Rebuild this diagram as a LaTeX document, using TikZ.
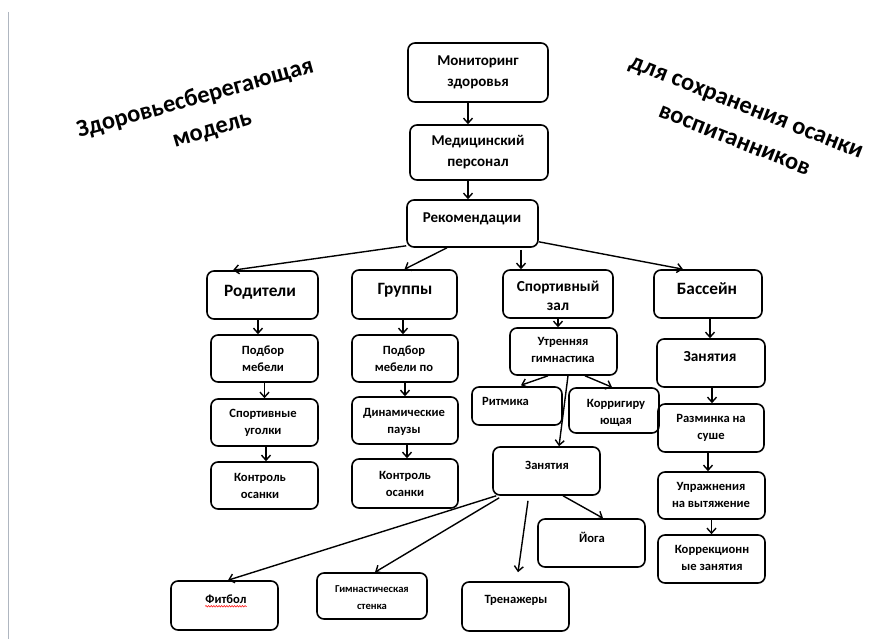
\documentclass[tikz,border=0pt]{standalone}
\usepackage{fontspec}
\setmainfont{Carlito}
\usetikzlibrary{arrows.meta,decorations.pathmorphing}
\tikzset{
  box/.style={draw, rounded corners=7pt, line width=1.6pt, inner sep=0pt},
  lbl/.style={align=center, inner sep=0pt},
  fbig/.style={font=\bfseries\fontsize{17.3}{21}\selectfont},
  fmid/.style={font=\bfseries\fontsize{15.3}{19}\selectfont},
  ftop/.style={font=\bfseries\fontsize{15}{21}\selectfont},
  fsm/.style={font=\bfseries\fontsize{12.6}{17}\selectfont},
  ftiny/.style={font=\bfseries\fontsize{10.6}{16.5}\selectfont},
  ftitle/.style={font=\bfseries\fontsize{24.4}{34}\selectfont},
  arr/.style={line width=1.4pt, -{Straight Barb[length=5pt,width=9pt]}},
}
\begin{document}
\begin{tikzpicture}[x=1pt,y=-1pt]
\useasboundingbox (0,0) rectangle (896,639);
\fill[white] (0,0) rectangle (896,639);
\coordinate (ltop) at (8,12);
\coordinate (lbot) at (8,639);
\draw[color={rgb,255:red,175;green,182;blue,192}, line width=1pt] (ltop) -- (lbot);

% titles
\node[lbl, ftitle, anchor=base, rotate=15.5] (t1) at (197,105) {Здоровьесберегающая};
\node[lbl, ftitle, anchor=base, rotate=16.5] (t2) at (214,136) {модель};
\node[lbl, ftitle, anchor=base, rotate=-21.5] (t3) at (744,113) {для сохранения осанки};
\node[lbl, ftitle, anchor=base, rotate=-21.5] (t4) at (732,146) {воспитанников};

% boxes
\node[box, minimum width=140pt, minimum height=59pt] (mon) at (478,72.5) {};
\node[box, minimum width=138pt, minimum height=55pt] (med) at (479,152.5) {};
\node[box, minimum width=131pt, minimum height=47pt] (rek) at (472.5,223.5) {};
\node[box, minimum width=111pt, minimum height=48pt] (rod) at (262.5,295) {};
\node[box, minimum width=105pt, minimum height=49pt] (grp) at (404.5,294.5) {};
\node[box, minimum width=110pt, minimum height=48pt] (spz) at (558,294) {};
\node[box, minimum width=108pt, minimum height=48pt] (bas) at (708,294) {};
\node[box, minimum width=107pt, minimum height=47pt] (pm1) at (264.5,358.5) {};
\node[box, minimum width=107pt, minimum height=47pt] (su) at (264.5,422.5) {};
\node[box, minimum width=107pt, minimum height=47pt] (ko1) at (264.5,485.5) {};
\node[box, minimum width=106pt, minimum height=47pt] (pm2) at (405,358.5) {};
\node[box, minimum width=106pt, minimum height=47pt] (dp) at (405,420.5) {};
\node[box, minimum width=106pt, minimum height=49pt] (ko2) at (405,483.5) {};
\node[box, minimum width=107pt, minimum height=47pt] (ug) at (563.5,351.5) {};
\node[box, minimum width=108pt, minimum height=48pt] (zb) at (711,363) {};
\node[box, minimum width=90pt, minimum height=38pt] (rit) at (517,406) {};
\node[box, minimum width=90pt, minimum height=45pt] (kor) at (614,410.5) {};
\node[box, minimum width=106pt, minimum height=48pt] (raz) at (711,428) {};
\node[box, minimum width=107pt, minimum height=48pt] (zan) at (546.5,471) {};
\node[box, minimum width=107pt, minimum height=47pt] (upr) at (711.5,495.5) {};
\node[box, minimum width=107pt, minimum height=48pt] (yog) at (591.5,543) {};
\node[box, minimum width=107pt, minimum height=48pt] (kzn) at (711.5,559) {};
\node[box, minimum width=107pt, minimum height=49pt] (tre) at (515.5,606.5) {};
\node[box, minimum width=107pt, minimum height=49pt] (fit) at (224.5,605.5) {};
\node[box, minimum width=110pt, minimum height=46pt] (gs) at (372,596) {};

% texts
\node[lbl, ftop] (monT) at (478,72.5) {Мониторинг\\здоровья};
\node[lbl, ftop] (medT) at (478,152.5) {Медицинский\\персонал};
\node[lbl, ftop] (rekT) at (472,218.5) {Рекомендации};
\node[lbl, fbig] (rodT) at (260,292) {Родители};
\node[lbl, fbig] (grpT) at (405,290) {Группы};
\node[lbl, fmid] (spzT) at (558,296) {Спортивный\\зал};
\node[lbl, fbig] (basT) at (707,289) {Бассейн};
\node[lbl, fsm] (pm1T) at (263,358.5) {Подбор\\мебели};
\node[lbl, fsm] (suT) at (263,423) {Спортивные\\уголки};
\node[lbl, fsm] (ko1T) at (260,486) {Контроль\\осанки};
\node[lbl, fsm] (pm2T) at (404,358.5) {Подбор\\мебели по};
\node[lbl, fsm] (dpT) at (404,422) {Динамические\\паузы};
\node[lbl, fsm] (ko2T) at (405,483.5) {Контроль\\осанки};
\node[lbl, fsm] (ugT) at (563,350) {Утренняя\\гимнастика};
\node[lbl, fmid] (zbT) at (710,357) {Занятия};
\node[lbl, fsm] (ritT) at (505.5,401) {Ритмика};
\node[lbl, fsm] (korT) at (616,412.5) {Корригиру\\ющая};
\node[lbl, fsm] (razT) at (711,427.5) {Разминка на\\суше};
\node[lbl, fsm] (zanT) at (547,465) {Занятия};
\node[lbl, fsm] (uprT) at (711,494.5) {Упражнения\\на вытяжение};
\node[lbl, fsm] (yogT) at (592,537) {Йога};
\node[lbl, fsm] (kznT) at (712,558) {Коррекционн\\ые занятия};
\node[lbl, fsm] (treT) at (516,600) {Тренажеры};
\node[lbl, fsm] (fitT) at (226,599) {Фитбол};
\node[lbl, ftiny] (gsT) at (372,597.5) {Гимнастическая\\стенка};
\draw[red, line width=0.5pt, decorate, decoration={snake, amplitude=0.8pt, segment length=2.6pt}]
  ([yshift=-3pt]fitT.base west) -- ([yshift=-3pt]fitT.base east);

% connectors
\draw[arr] ([xshift=-10pt]mon.south) -- ([xshift=-11pt]med.north);
\draw[arr] ([xshift=-11pt]med.south) -- ([xshift=-4.5pt]rek.north);
\draw[arr] ([yshift=2pt]rek.south west) -- ([xshift=-29.5pt]rod.north);
\draw[arr] ([xshift=-25.5pt]rek.south) -- (grp.north);
\draw[arr] ([xshift=48.5pt,yshift=-2pt]rek.south) -- ([xshift=-37pt]spz.north);
\draw[arr] ([yshift=6pt]rek.south east) -- ([xshift=-25pt]bas.north);
\draw[arr] ([xshift=-4.5pt]rod.south) -- ([xshift=-6.5pt]pm1.north);
\draw[arr] (pm1.south) -- (su.north);
\draw[arr] ([xshift=1.5pt]su.south) -- ([xshift=1.5pt]ko1.north);
\draw[arr] ([xshift=-1.5pt]grp.south) -- ([xshift=-2pt]pm2.north);
\draw[arr] (pm2.south) -- (dp.north);
\draw[arr] ([xshift=2pt]dp.south) -- ([xshift=2pt]ko2.north);
\draw[arr] (spz.south) -- ([xshift=-5.5pt]ug.north);
\draw[arr] ([xshift=2pt]bas.south) -- ([xshift=-1pt]zb.north);
\draw[arr] ([xshift=1pt]zb.south) -- ([xshift=1pt]raz.north);
\draw[arr] ([xshift=-3pt]raz.south) -- ([xshift=-3.5pt]upr.north);
\draw[arr] (upr.south) -- (kzn.north);
\draw[arr] ([xshift=-15.5pt]ug.south) -- ([xshift=4pt,yshift=1pt]rit.north);
\draw[arr] ([xshift=21.5pt]ug.south) -- ([xshift=-2pt]kor.north);
\draw[arr] ([xshift=4.5pt]ug.south) -- ([xshift=12.5pt]zan.north);
\draw[arr] ([xshift=4pt]zan.south west) -- ([xshift=3.5pt]fit.north);
\draw[arr] ([xshift=7pt,yshift=-2pt]zan.south west) -- ([xshift=3pt]gs.north);
\draw[arr] ([xshift=-18.5pt,yshift=-5pt]zan.south) -- ([xshift=2.5pt,yshift=9pt]tre.north);
\draw[arr] ([xshift=16.5pt]zan.south) -- ([xshift=11.5pt]yog.north);
\end{tikzpicture}
\end{document}
